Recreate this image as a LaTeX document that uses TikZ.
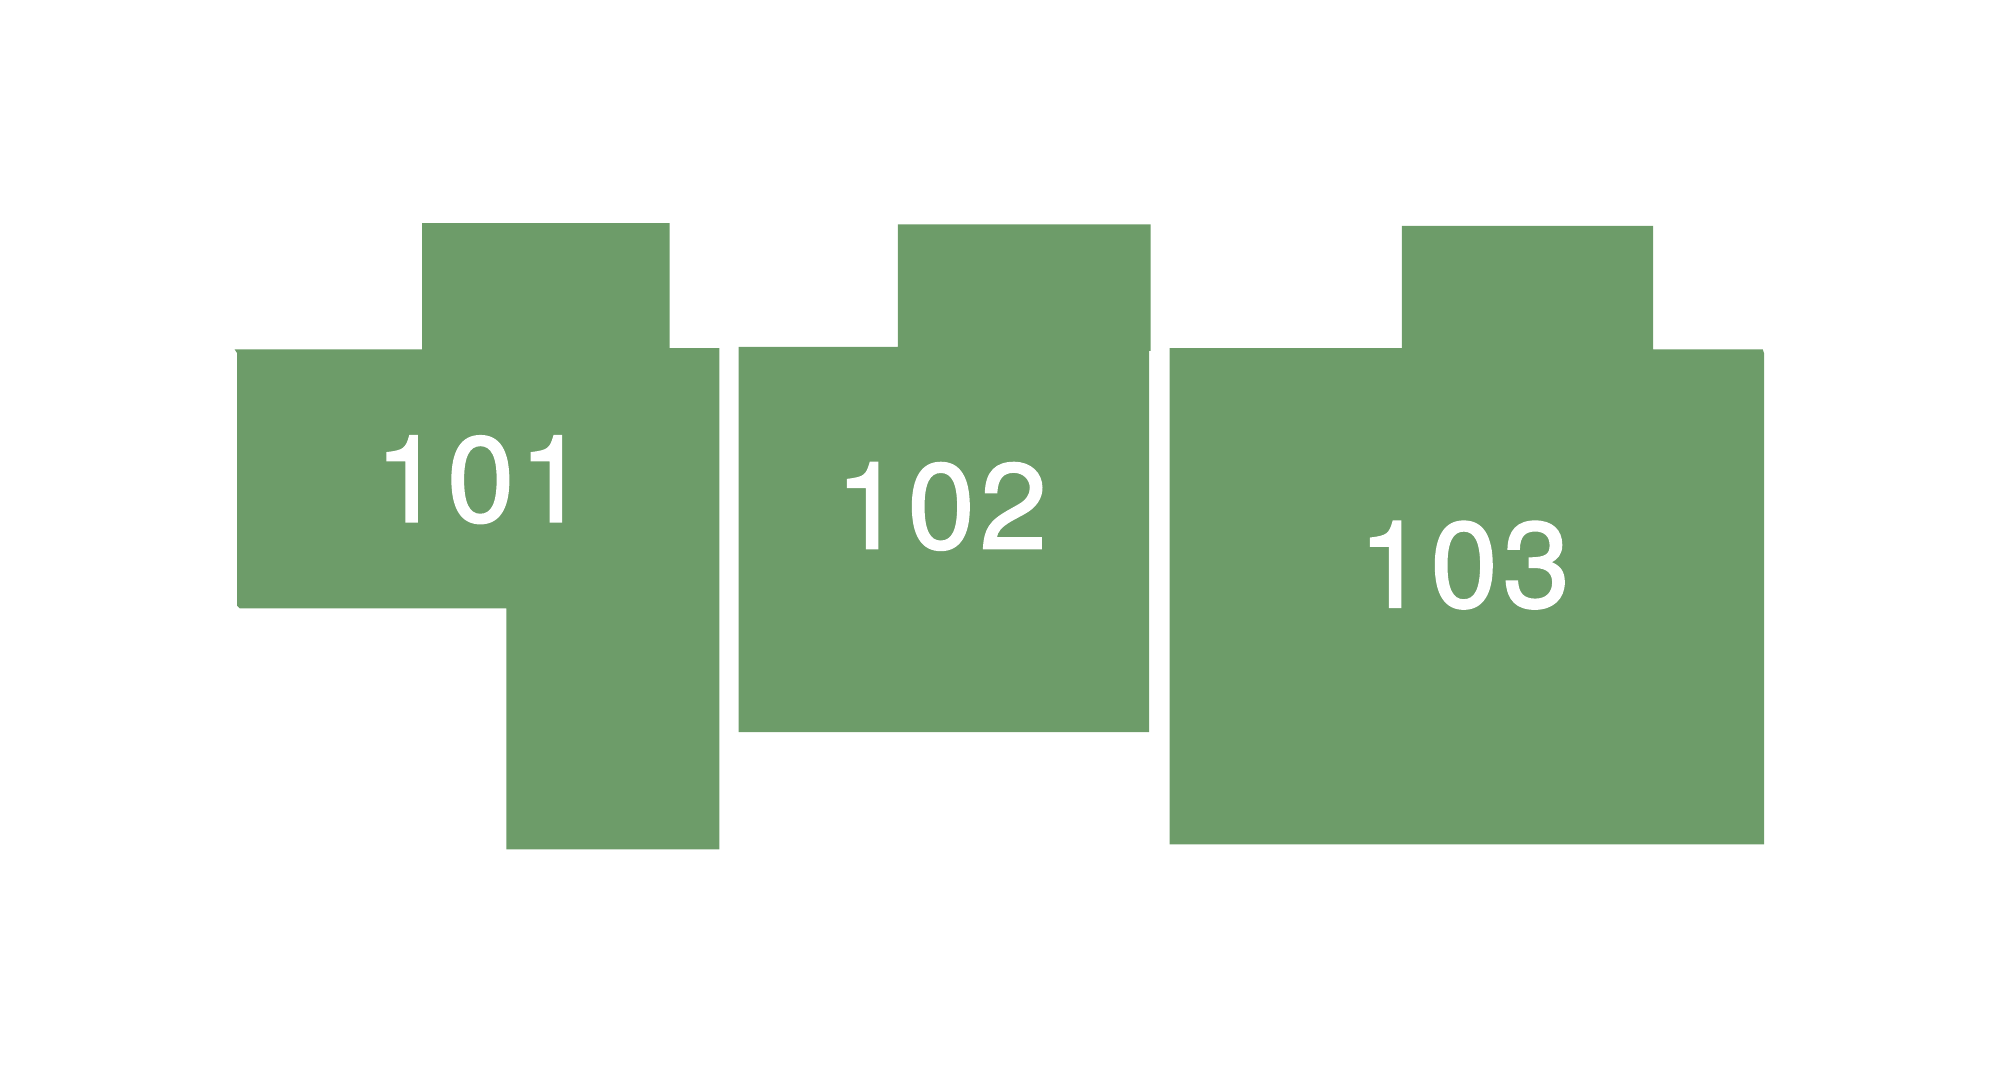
\documentclass[tikz,border=0pt]{standalone}
\usepackage{fontspec}
\newfontfamily\roomfont[LetterSpace=4, FakeBold=1.5]{TeX Gyre Heros}
\definecolor{roomgreen}{RGB}{109,156,105}
\begin{document}
\begin{tikzpicture}[x=0.01cm, y=-0.01cm, line join=miter,
  room/.style={fill=roomgreen, draw=none},
  roomno/.style={text=white, anchor=base, inner sep=0pt, font=\roomfont\fontsize{27}{30}\selectfont}]
  \useasboundingbox (0,0) rectangle (1568,842);
  % 101
  \path[room] (184,274)--(331,274)--(331,175)--(525,175)--(525,273)--(564,273)--(564,666)--(397,666)--(397,477)--(188,477)--(186,475)--(186,277)--cycle;
  % 102
  \path[room] (579,272)--(704,272)--(704,176)--(902,176)--(902,275)--(901,275)--(901,574)--(579,574)--cycle;
  % 103
  \path[room] (917,273)--(1099,273)--(1099,177)--(1296,177)--(1296,274)--(1382,274)--(1383,277)--(1383,662)--(917,662)--cycle;
  \node[roomno] (n101) at (377,409) {101};
  \node[roomno] (n102) at (738,430) {102};
  \node[roomno] (n103) at (1148,476) {103};
\end{tikzpicture}
\end{document}
